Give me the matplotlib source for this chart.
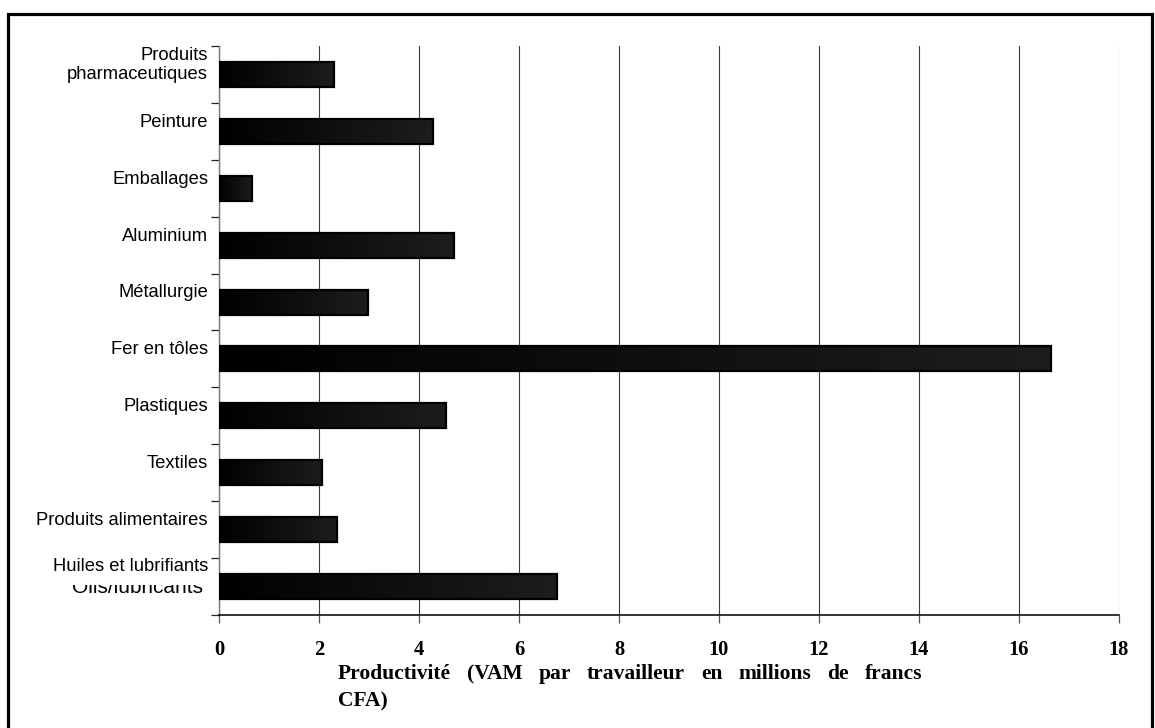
import matplotlib
matplotlib.use("Agg")
import matplotlib.pyplot as plt
import numpy as np
from matplotlib.colors import LinearSegmentedColormap
from matplotlib.lines import Line2D
from matplotlib.patches import Rectangle

# Productivity by industry (value added per worker, millions of CFA francs)
categories = [
    "Produits\npharmaceutiques",
    "Peinture",
    "Emballages",
    "Aluminium",
    "Métallurgie",
    "Fer en tôles",
    "Plastiques",
    "Textiles",
    "Produits alimentaires",
    "Huiles et lubrifiants",
]
productivity = [2.30, 4.28, 0.66, 4.69, 2.98, 16.64, 4.53, 2.05, 2.35, 6.75]
x_ticks = [0, 2, 4, 6, 8, 10, 12, 14, 16, 18]
hidden_label = "Oils/lubricants"
xlabel_line1 = "Productivité (VAM par travailleur en millions de francs"
xlabel_line2 = "CFA)"

W, H = 1155, 728
fig = plt.figure(figsize=(W / 100, H / 100), dpi=100)
fig.patch.set_facecolor("white")

left, right, top, bottom = 219, 1119, 46, 615
ax = fig.add_axes([left / W, 1 - bottom / H, (right - left) / W, (bottom - top) / H])

n = len(categories)
ypos = np.arange(n)
bar_h = 0.44

sans = ["Liberation Sans", "DejaVu Sans"]
serif = ["Liberation Serif", "DejaVu Serif"]

# dark gradient fill for each bar
grad = LinearSegmentedColormap.from_list("bar", ["#000000", "#1d1d1d"])
g = np.linspace(0, 1, 256).reshape(1, -1)

bars = ax.barh(ypos, productivity, height=bar_h, facecolor="none",
               edgecolor="black", linewidth=1.6, zorder=4)
for rect in bars:
    x0, y0 = rect.get_x(), rect.get_y()
    w, h = rect.get_width(), rect.get_height()
    ax.imshow(g, cmap=grad, aspect="auto", extent=(x0, x0 + w, y0 + h, y0),
              interpolation="bilinear", zorder=3)

ax.set_xlim(0, 18)
ax.set_ylim(n - 0.5, -0.5)

# vertical grid
ax.set_xticks(x_ticks)
ax.xaxis.grid(True, color="#3a3a3a", linewidth=0.8, zorder=1)
ax.set_axisbelow(True)

ax.set_xticklabels([str(t) for t in x_ticks], fontfamily=serif,
                   fontweight="bold", fontsize=14.8)
ax.tick_params(axis="x", direction="out", length=6, width=0.9,
               color="#555555", pad=12)

# category boundaries as y ticks
ax.set_yticks(np.arange(n + 1) - 0.5)
ax.set_yticklabels([])
ax.tick_params(axis="y", direction="out", length=6, width=0.9, color="#222222")

for s in ("top", "right"):
    ax.spines[s].set_visible(False)
ax.spines["left"].set_color("#777777")
ax.spines["left"].set_linewidth(1.0)
ax.spines["bottom"].set_color("#111111")
ax.spines["bottom"].set_linewidth(1.2)

# category labels, set slightly above each bar
lab_x = -11 / ((right - left) / 18)
for i, name in enumerate(categories):
    if i == n - 1:
        continue
    ax.text(lab_x, i - 0.16, name, ha="right", va="center", fontsize=13.2,
            fontfamily=sans, linespacing=1.15, clip_on=False, zorder=5)

# bottom category: original label partly covered by the new one
ax.text(-16 / ((right - left) / 18), n - 1 + 0.02, hidden_label, ha="right",
        va="center", fontsize=15, fontfamily=sans, clip_on=False, zorder=5)
ax.add_patch(Rectangle((30 / W, 1 - 585 / H), 180 / W, 30 / H,
                       transform=fig.transFigure, facecolor="white",
                       edgecolor="none", clip_on=False, zorder=5.5))
ax.text(lab_x, n - 1 - 0.35, categories[-1], ha="right", va="center",
        fontsize=13.2, fontfamily=sans, clip_on=False, zorder=6)

# justified two-line axis title
fig.canvas.draw()
renderer = fig.canvas.get_renderer()
words = xlabel_line1.split(" ")
x_start, x_end, base1, base2 = 338, 922, 679, 706
objs = []
for wd in words:
    t = fig.text(0, 1 - base1 / H, wd, fontfamily=serif, fontweight="bold",
                 fontsize=15.5, ha="left", va="baseline")
    objs.append(t)
widths = [t.get_window_extent(renderer).width for t in objs]
gap = (x_end - x_start - sum(widths)) / (len(words) - 1)
xc = x_start
for t, wdt in zip(objs, widths):
    t.set_x(xc / W)
    xc += wdt + gap
fig.text(x_start / W, 1 - base2 / H, xlabel_line2, fontfamily=serif,
         fontweight="bold", fontsize=15.5, ha="left", va="baseline")

# outer frame
fx = [7.5 / W, 7.5 / W, 1152 / W, 1152 / W]
fy = [0, 1 - 13.5 / H, 1 - 13.5 / H, 0]
fig.add_artist(Line2D(fx, fy, transform=fig.transFigure, color="black",
                      linewidth=2.3, solid_joinstyle="miter"))

fig.savefig("out.png", dpi=100, facecolor="white")
